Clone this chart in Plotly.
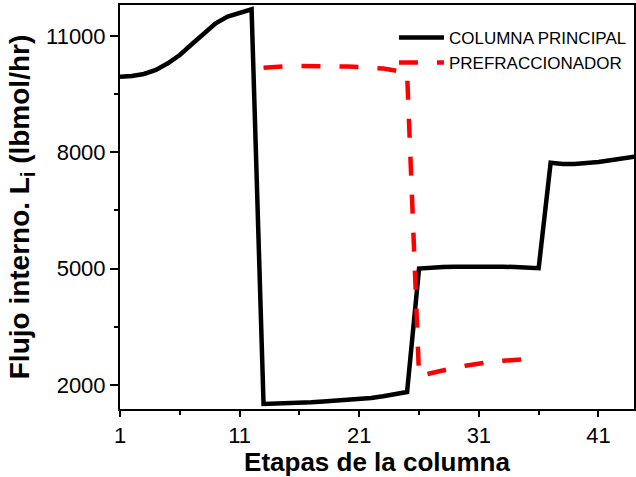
import plotly.graph_objects as go

stages = list(range(1, 45))
columna_principal = [
    9950, 9970, 10020, 10124, 10296, 10510, 10786, 11070, 11327, 11500,
    11610, 11690, 1505, 1510, 1520, 1535, 1550, 1570, 1590, 1610,
    1635, 1660, 1705, 1760, 1814, 5000, 5030, 5040, 5045, 5050,
    5050, 5050, 5048, 5040, 5030, 5010, 7732, 7700, 7700, 7716,
    7750, 7794, 7835, 7887,
]
pref_stages = list(range(13, 37))
prefraccionador = [
    10180, 10210, 10225, 10230, 10230, 10225, 10220, 10210, 10200, 10185,
    10160, 10110, 10050, 2230, 2310, 2380, 2440, 2500, 2550, 2590,
    2620, 2650, 2670, 2690,
]
x_ticks = [1, 11, 21, 31, 41]
y_ticks = [2000, 5000, 8000, 11000]

FONT = "Liberation Sans, Arial, sans-serif"

fig = go.Figure()
fig.add_trace(go.Scatter(
    x=stages, y=columna_principal, mode="lines", name="COLUMNA PRINCIPAL",
    line=dict(color="black", width=4.5),
))
fig.add_trace(go.Scatter(
    x=pref_stages, y=prefraccionador, mode="lines", name="PREFRACCIONADOR",
    line=dict(color="#ff0000", width=4.5, dash="19px,19px"),
))

fig.update_layout(
    width=636, height=477,
    margin=dict(l=120, r=0, t=5, b=68),
    paper_bgcolor="white", plot_bgcolor="white",
    font=dict(family=FONT, color="black"),
    showlegend=True,
    legend=dict(
        x=0.533, y=0.963, xanchor="left", yanchor="top",
        bgcolor="rgba(0,0,0,0)", borderwidth=0,
        font=dict(size=17, family=FONT, color="black"),
        itemwidth=45, tracegroupgap=0,
    ),
)
fig.update_xaxes(
    range=[1, 43.97], tickmode="array", tickvals=x_ticks,
    ticktext=[str(v) for v in x_ticks],
    ticks="outside", ticklen=6, tickwidth=1.5, tickcolor="black",
    showline=True, linecolor="black", linewidth=2, mirror=True,
    showgrid=False, zeroline=False,
    tickfont=dict(size=22, family=FONT, color="black"),
    minor=dict(tickvals=[6, 16, 26, 36], ticklen=4, tickwidth=1.5,
               tickcolor="black", ticks="outside", showgrid=False),
    title=dict(text="<b>Etapas de la columna</b>", standoff=6,
               font=dict(size=26, family=FONT, color="black")),
)
fig.update_yaxes(
    range=[1376, 11800], tickmode="array", tickvals=y_ticks,
    ticktext=[str(v) for v in y_ticks],
    ticks="outside", ticklen=8, tickwidth=1.5, tickcolor="black",
    showline=True, linecolor="black", linewidth=2, mirror=True,
    showgrid=False, zeroline=False,
    tickfont=dict(size=22, family=FONT, color="black"),
    minor=dict(tickvals=[3500, 6500, 9500], ticklen=4, tickwidth=1.5,
               tickcolor="black", ticks="outside", showgrid=False),
    title=dict(text="<b>Flujo interno. L<sub>i</sub> (lbmol/hr)</b>", standoff=8,
               font=dict(size=28, family=FONT, color="black")),
)

fig.write_html("out.html")
